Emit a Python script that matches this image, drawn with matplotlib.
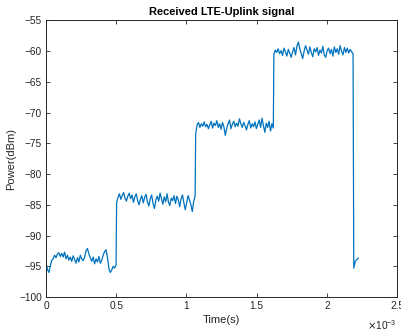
import numpy as np
import matplotlib
matplotlib.use('Agg')
import matplotlib.pyplot as plt
from matplotlib.ticker import FuncFormatter

plt.rcParams['font.family'] = ['Liberation Sans', 'DejaVu Sans']

# power levels (dBm), one list per step of the signal
seg1_power = [-94.5, -95.5, -96.0, -95.0, -94.0, -93.8, -93.2, -93.6, -93.0, -92.8,
              -93.4, -92.9, -93.5, -92.7, -93.8, -93.2, -94.0, -93.5, -94.2, -93.3,
              -93.9, -94.5, -93.6, -94.3, -93.2, -93.8, -94.1, -93.5, -92.5, -92.1,
              -93.0, -93.6, -94.2, -93.5, -94.6, -93.8, -94.3, -93.4, -94.5, -94.0,
              -93.2, -92.6, -92.3, -93.6, -95.4, -96.0, -95.6, -95.0, -95.3, -94.8]
seg2_power = [-84.6, -83.8, -83.2, -84.1, -83.5, -83.0, -83.9, -84.4, -83.6, -83.1,
              -84.0, -83.4, -84.6, -83.7, -83.2, -84.3, -85.0, -84.1, -83.5, -84.7,
              -83.8, -83.3, -84.5, -85.2, -84.0, -83.4, -84.8, -85.6, -84.2, -83.6,
              -84.4, -83.1, -84.0, -84.9, -83.7, -84.5, -83.2, -84.6, -85.1, -83.9,
              -84.3, -83.5, -84.8, -83.6, -84.2, -85.3, -84.0, -83.4, -84.7, -85.8,
              -84.6, -83.5, -84.2, -85.0, -86.1, -84.4, -83.6]
seg3_power = [-73.5, -72.0, -71.6, -72.4, -71.8, -72.2, -71.5, -72.3, -71.9, -72.6,
              -72.0, -71.4, -72.5, -71.7, -72.1, -71.3, -72.4, -71.8, -72.7, -71.6,
              -72.3, -73.7, -72.5, -71.8, -71.2, -72.6, -71.9, -71.4, -72.3, -71.7,
              -72.2, -71.0, -71.8, -72.4, -71.6, -72.1, -72.8, -71.9, -71.3, -72.5,
              -71.8, -72.3, -71.5, -72.6, -71.9, -71.2, -72.4, -70.9, -72.1, -73.2,
              -71.7, -72.4, -71.4, -73.0, -71.8, -72.5]
seg4_power = [-60.5, -59.8, -60.2, -59.6, -60.4, -59.9, -60.7, -59.5, -60.1, -60.8,
              -59.7, -60.3, -61.0, -60.1, -59.4, -60.6, -59.2, -58.5, -59.6, -60.4,
              -61.2, -60.0, -59.1, -59.8, -60.5, -59.3, -60.2, -60.9, -59.6, -60.1,
              -59.4, -60.7, -59.8, -60.3, -59.2, -60.6, -61.0, -59.9, -59.5, -60.4,
              -59.7, -60.8, -59.3, -60.2, -59.6, -60.5, -59.1, -60.0, -60.6, -59.4,
              -60.2, -59.5, -60.3, -59.7, -60.1, -60.4]
seg5_power = [-95.3, -94.2, -93.9, -93.7]

# start / end time (s) of each step
seg_start = [0.0, 0.503e-3, 1.066e-3, 1.623e-3, 2.192e-3]
seg_end = [0.499e-3, 1.062e-3, 1.619e-3, 2.187e-3, 2.224e-3]

segments = [seg1_power, seg2_power, seg3_power, seg4_power, seg5_power]
t = np.concatenate([np.linspace(a, b, len(p)) for a, b, p in zip(seg_start, seg_end, segments)])
power = np.concatenate(segments)

fig = plt.figure(figsize=(4.02, 3.36), dpi=100)
ax = fig.add_axes([0.1144, 0.1161, 0.8732, 0.8229])
ax.plot(t, power, color='#0072BD', linewidth=0.9)

ax.set_xlim(0, 2.5e-3)
ax.set_ylim(-100, -55)
ax.set_xticks(np.arange(0, 2.51e-3, 0.5e-3))
ax.set_yticks(np.arange(-100, -54, 5))
ax.xaxis.set_major_formatter(FuncFormatter(lambda v, pos: '%g' % round(v * 1e3, 3)))

ax.tick_params(direction='in', top=True, right=True, length=3, width=0.6,
               labelsize=7.3, colors='#262626', pad=3)
for s in ax.spines.values():
    s.set_linewidth(0.7)
    s.set_color('#262626')

ax.set_title('Received LTE-Uplink signal', fontsize=8, fontweight='bold', pad=4)
ax.set_xlabel('Time(s)', fontsize=8, color='#262626', labelpad=3)
ax.set_ylabel('Power(dBm)', fontsize=8, color='#262626', labelpad=2)
ax.text(1.0, -0.075, r'$\times\mathregular{10^{-3}}$', transform=ax.transAxes,
        ha='right', va='top', fontsize=7.3, color='#262626')

fig.savefig('out.png', dpi=100)
